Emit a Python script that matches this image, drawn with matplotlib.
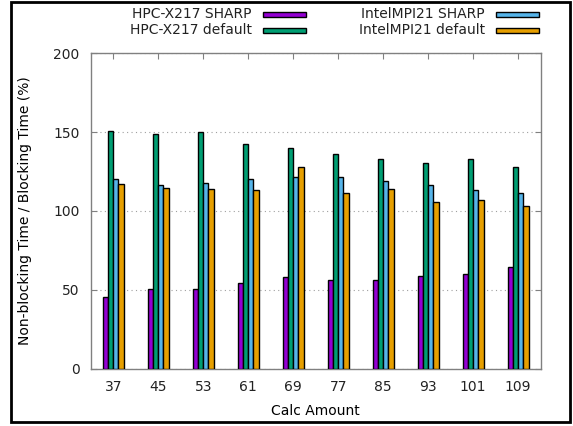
import matplotlib
matplotlib.use('Agg')
import matplotlib.pyplot as plt
import numpy as np
from matplotlib.patches import Rectangle

# Data
calc_amount = ['37', '45', '53', '61', '69', '77', '85', '93', '101', '109']
hpcx_sharp = [45.2, 50.7, 50.3, 54.1, 57.9, 56.2, 56.2, 58.6, 60.0, 64.7]
hpcx_default = [151.0, 148.6, 150.3, 142.5, 139.7, 135.9, 133.2, 130.4, 133.2, 127.7]
impi_sharp = [120.5, 116.3, 117.8, 120.5, 121.6, 121.6, 118.8, 116.7, 113.3, 111.6]
impi_default = [117.3, 114.4, 113.7, 113.3, 127.7, 111.2, 113.7, 105.7, 106.8, 103.0]

series = [
    ('HPC-X217 SHARP', hpcx_sharp, '#9400D3'),
    ('HPC-X217 default', hpcx_default, '#009E73'),
    ('IntelMPI21 SHARP', impi_sharp, '#56B4E9'),
    ('IntelMPI21 default', impi_default, '#E69F00'),
]

fig = plt.figure(figsize=(5.73, 4.26), dpi=100)
ax = fig.add_axes([0.1583, 0.1345, 0.9436 - 0.1583, 0.8749 - 0.1345])

x = np.arange(len(calc_amount))
w = 0.117
for i, (label, vals, col) in enumerate(series):
    ax.bar(x + (i - 1.5) * w, vals, width=w, color=col, edgecolor='black',
           linewidth=1.0, zorder=3)

ax.set_xlim(-0.5, 9.5)
ax.set_ylim(0, 200)
ax.set_yticks([0, 50, 100, 150, 200])
ax.set_xticks(x)
ax.set_xticklabels(calc_amount)
ax.yaxis.grid(True, linestyle=(0, (1, 3)), color='#a0a0a0', linewidth=0.8, zorder=0)
ax.set_axisbelow(True)

for s in ax.spines.values():
    s.set_color('#808080')
    s.set_linewidth(1.0)
ax.tick_params(direction='in', length=4, color='#808080', labelsize=10,
               top=True, right=True, pad=8, labelcolor='#222222')
ax.set_xlabel('Calc Amount', fontsize=10, labelpad=7)
ax.set_ylabel('Non-blocking Time / Blocking Time (%)', fontsize=10, labelpad=15)

# gnuplot-style key above the plot: label then sample box
key_pos = [(252, 14), (252, 30.5), (485, 14), (485, 30.5)]
W, H = 573.0, 426.0
for (label, vals, col), (tx, ty) in zip(series, key_pos):
    fig.text(tx / W, 1 - ty / H, label, ha='right', va='center', fontsize=10,
             color='#222222')
    fig.patches.append(Rectangle(((tx + 11) / W, 1 - (ty + 2.5) / H), 43 / W, 5 / H,
                                 transform=fig.transFigure, facecolor=col,
                                 edgecolor='black', linewidth=1.0))

# outer frame
fig.patches.append(Rectangle((11 / W, 1 - 422 / H), 559 / W, 420 / H,
                             transform=fig.transFigure, fill=False,
                             edgecolor='black', linewidth=2))

fig.savefig('out.png', dpi=100)
